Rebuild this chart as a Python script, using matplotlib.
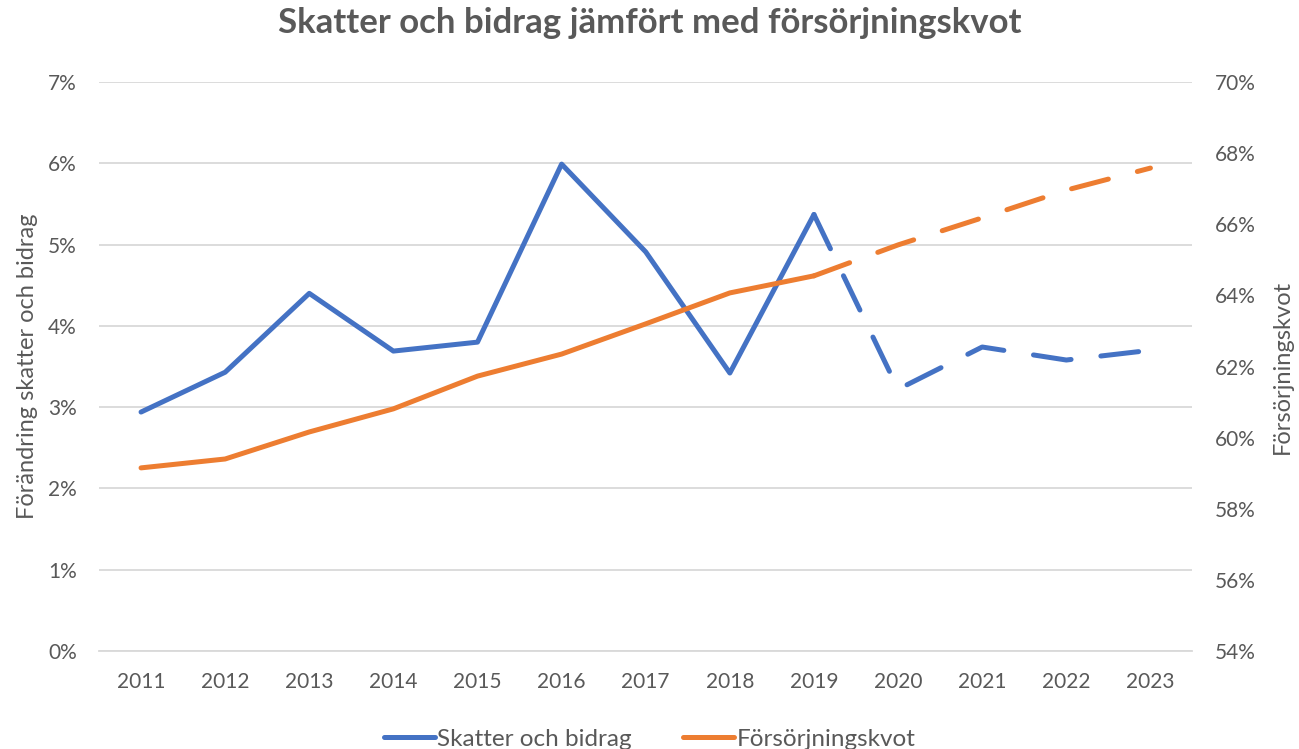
import matplotlib
matplotlib.use("Agg")
import matplotlib.pyplot as plt
from matplotlib.lines import Line2D
from matplotlib.ticker import FuncFormatter

years = ["2011", "2012", "2013", "2014", "2015", "2016", "2017", "2018",
         "2019", "2020", "2021", "2022", "2023"]
skatter = [2.94, 3.43, 4.40, 3.69, 3.80, 5.99, 4.91, 3.42, 5.37, 3.22, 3.74, 3.58, 3.70]
forsorjning = [59.15, 59.40, 60.16, 60.81, 61.73, 62.35, 63.20, 64.07, 64.55, 65.42, 66.18, 66.96, 67.58]
split_index = 8  # last actual year (2019); forecast dashed after

BLUE = "#4472C4"
ORANGE = "#ED7D31"
TEXT = "#595959"
GRID = "#D9D9D9"
FONT = ["Lato", "DejaVu Sans"]

plt.rcParams["font.family"] = FONT

fig = plt.figure(figsize=(12.99, 7.49), dpi=100)
ax = fig.add_axes([0.0762, 0.1308, 0.8418, 0.7597])
ax2 = ax.twinx()

x = list(range(len(years)))
lw = 3.6
dash = (7.6, 6.0)

ax.plot(x[:split_index + 1], skatter[:split_index + 1], color=BLUE, lw=lw,
        solid_capstyle="round", solid_joinstyle="round", zorder=3)
ax.plot(x[split_index:], skatter[split_index:], color=BLUE, lw=lw,
        dashes=dash, dash_capstyle="round", dash_joinstyle="round", zorder=3)
ax2.plot(x[:split_index + 1], forsorjning[:split_index + 1], color=ORANGE, lw=lw,
         solid_capstyle="round", solid_joinstyle="round", zorder=3)
ax2.plot(x[split_index:], forsorjning[split_index:], color=ORANGE, lw=lw,
         dashes=dash, dash_capstyle="round", dash_joinstyle="round", zorder=3)

ax.set_xlim(-0.5, len(years) - 0.5)
ax.set_ylim(0, 7)
ax2.set_ylim(54, 70)
ax.set_yticks(range(0, 8))
ax2.set_yticks(range(54, 71, 2))
ax.yaxis.set_major_formatter(FuncFormatter(lambda v, p: f"{v:.0f}%"))
ax2.yaxis.set_major_formatter(FuncFormatter(lambda v, p: f"{v:.0f}%"))
ax.set_xticks(x)
ax.set_xticklabels(years)

ax.grid(axis="y", color=GRID, lw=1.3)
ax.set_axisbelow(True)
for a in (ax, ax2):
    for s in a.spines.values():
        s.set_visible(False)
    a.tick_params(length=0, labelsize=15, colors=TEXT)
ax.spines["bottom"].set_visible(True)
ax.spines["bottom"].set_color(GRID)
ax.spines["bottom"].set_linewidth(1.3)
ax.tick_params(axis="x", pad=15)
ax.tick_params(axis="y", pad=16)
ax2.tick_params(axis="y", pad=16)

ax.set_ylabel("Förändring skatter och bidrag", fontsize=17, color=TEXT, labelpad=7)
ax2.set_ylabel("Försörjningskvot", fontsize=17, color=TEXT, labelpad=12)

fig.suptitle("Skatter och bidrag jämfört med försörjningskvot", x=0.5, y=0.99,
             fontsize=25, fontweight="bold", color=TEXT)

handles = [Line2D([0], [0], color=BLUE, lw=lw, solid_capstyle="round"),
           Line2D([0], [0], color=ORANGE, lw=lw, solid_capstyle="round")]
fig.legend(handles, ["Skatter och bidrag", "Försörjningskvot"], loc="lower center",
           bbox_to_anchor=(0.5, -0.03), ncol=2, frameon=False, fontsize=17.5,
           labelcolor=TEXT, handlelength=2.1, handletextpad=0.1, columnspacing=2.1)

fig.savefig("out.png", dpi=100, facecolor="white")
